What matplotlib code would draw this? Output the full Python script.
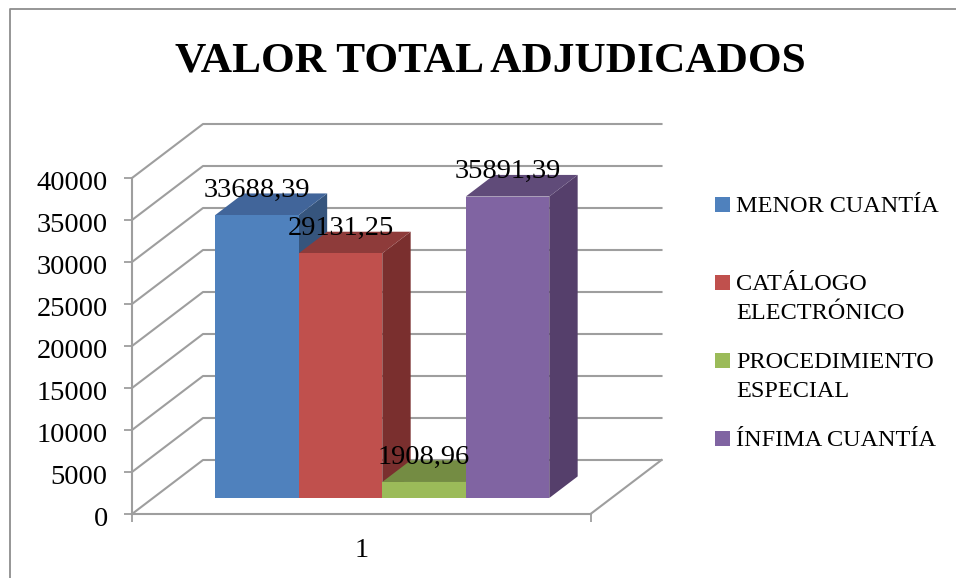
import matplotlib
matplotlib.use('Agg')
import matplotlib.pyplot as plt
from matplotlib.lines import Line2D
from matplotlib.patches import Polygon, Rectangle
from matplotlib.transforms import ScaledTranslation

W, H = 956, 578

# data
series_names = ['MENOR CUANTÍA', 'CATÁLOGO\nELECTRÓNICO', 'PROCEDIMIENTO\nESPECIAL', 'ÍNFIMA CUANTÍA']
series_values = [33688.39, 29131.25, 1908.96, 35891.39]
value_labels = ['33688,39', '29131,25', '1908,96', '35891,39']
front_colors = ['#4F81BD', '#C0504D', '#9BBB59', '#8064A2']
top_colors = ['#41659A', '#8E3B3A', '#748C43', '#604B79']
side_colors = ['#36557D', '#7A2F2E', '#5E7236', '#553F6B']
y_ticks = [0, 5000, 10000, 15000, 20000, 25000, 30000, 35000, 40000]

GRID = '#9E9E9E'
SERIF = 'Liberation Serif'

# pixel boxes of the front plane
left, right, bottom, top = 132, 590.5, 514, 178
PX_X = right - left          # pixels per x unit
PX_Y = (bottom - top) / 40000
DX = 71 / PX_X               # depth of the floor in data units
DY = 54 / PX_Y
BAR_W = 83.5 / PX_X
D0, D1 = 0.296, 0.696        # depth range of the bars


def proj(x, v, d):
    return x + d * DX, v + d * DY


fig = plt.figure(figsize=(W / 100, H / 100), dpi=100)
ax = fig.add_axes([left / W, 1 - bottom / H, PX_X / W, (bottom - top) / H])
ax.set_xlim(0.5, 1.5)
ax.set_ylim(0, 40000)
ax.patch.set_visible(False)
for s in ['top', 'right']:
    ax.spines[s].set_visible(False)
for s in ['left', 'bottom']:
    ax.spines[s].set_color(GRID)
    ax.spines[s].set_linewidth(1.5)

ax.set_yticks(y_ticks)
ax.set_xticks([1])
ax.set_xticks([0.5, 1.5], minor=True)
ax.tick_params(axis='y', length=5.5, width=1.3, color=GRID, pad=12, labelsize=20.5, labelfontfamily=SERIF)
ax.tick_params(axis='x', which='major', length=0, pad=17, labelsize=20.5, labelfontfamily=SERIF)
ax.tick_params(axis='x', which='minor', length=5.5, width=1.3, color=GRID)
shift = ScaledTranslation(0, -2 / 72, fig.dpi_scale_trans)
for lab in ax.get_yticklabels():
    lab.set_transform(lab.get_transform() + shift)

# walls
x_end = 1.5
for v in y_ticks:
    xb, yb = proj(0.5, v, 1)
    ax.plot([0.5, xb, proj(x_end, v, 1)[0]], [v, yb, yb], color=GRID, lw=1.5, clip_on=False, zorder=1)
ax.plot([x_end, proj(x_end, 0, 1)[0]], [0, proj(x_end, 0, 1)[1]], color=GRID, lw=1.5, clip_on=False, zorder=1)

# bars
x0 = 1 - 2 * BAR_W
for i, v in enumerate(series_values):
    xl = x0 + i * BAR_W
    xr = xl + BAR_W
    front = [proj(xl, 0, D0), proj(xr, 0, D0), proj(xr, v, D0), proj(xl, v, D0)]
    top_face = [proj(xl, v, D0), proj(xr, v, D0), proj(xr, v, D1), proj(xl, v, D1)]
    side = [proj(xr, 0, D0), proj(xr, 0, D1), proj(xr, v, D1), proj(xr, v, D0)]
    z = 3 + i
    ax.add_patch(Polygon(side, closed=True, fc=side_colors[i], ec='none', clip_on=False, zorder=z))
    ax.add_patch(Polygon(top_face, closed=True, fc=top_colors[i], ec='none', clip_on=False, zorder=z))
    ax.add_patch(Polygon(front, closed=True, fc=front_colors[i], ec='none', clip_on=False, zorder=z))

for i, v in enumerate(series_values):
    xc = x0 + (i + 0.5) * BAR_W
    ax.annotate(value_labels[i], proj(xc, v, D0), xytext=(0, 18), textcoords='offset points',
                ha='center', va='center', fontsize=20.5, family=SERIF, color='black',
                annotation_clip=False, zorder=10)

fig.text(490.5 / W, 1 - 62 / H, 'VALOR TOTAL ADJUDICADOS', ha='center', va='center',
         fontsize=31.2, fontweight='bold', family=SERIF, color='black')

# legend
legend_y = [204, 282, 360, 438.5]
for name, c, y in zip(series_names, front_colors, legend_y):
    fig.add_artist(Rectangle((715 / W, 1 - (y + 7.5) / H), 15 / W, 15 / H, transform=fig.transFigure,
                             fc=c, ec='none'))
    fig.text(736 / W, 1 - (y - 8.5) / H, name, ha='left', va='top', fontsize=17.5,
             family=SERIF, color='black', linespacing=1.56)

# chart border
fig.add_artist(Line2D([9.5 / W, 9.5 / W, 1], [0, 1 - 8.5 / H, 1 - 8.5 / H], transform=fig.transFigure,
                      color='#8E8E8E', lw=1.3))

fig.savefig('out.png', dpi=100)
